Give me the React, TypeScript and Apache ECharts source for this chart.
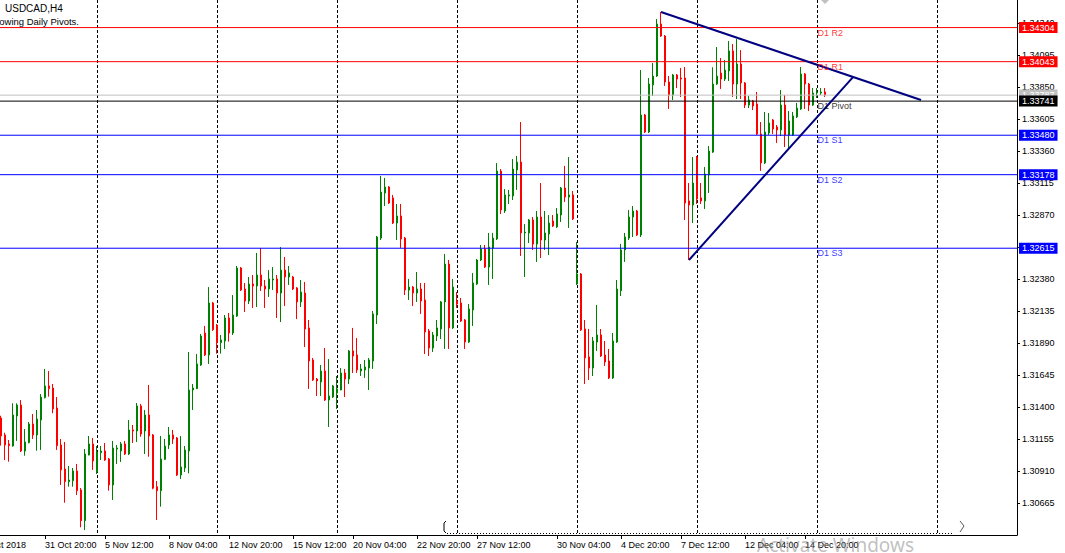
import React, { useEffect, useRef } from "react";
import * as echarts from "echarts";

// bars scrolled out of view on the left, and visible bar slots (incl. right shift)
const PAD = 6;
const SLOTS = 255;

const open = [
1.31316,1.31186,1.31117,1.31101,1.31331,1.31415,1.31063,1.31127,1.31270,1.31186,
1.31300,1.31471,1.31561,1.31545,1.31392,1.31109,1.30925,1.30828,1.30836,1.30910,
1.30765,1.30530,1.31032,1.31117,1.30902,1.31050,1.31063,1.31002,1.30803,1.31078,
1.31063,1.31117,1.31040,1.31224,1.31216,1.31408,1.31216,1.31339,1.31186,1.30790,
1.30759,1.30999,1.31109,1.31186,1.31163,1.30879,1.30933,1.31063,1.31530,1.31540,
1.31721,1.31966,1.31798,1.32196,1.32027,1.31892,1.31905,1.32081,1.31966,1.32096,
1.32464,1.32303,1.32211,1.32341,1.32326,1.32410,1.32326,1.32303,1.32372,1.32380,
1.32272,1.32448,1.32395,1.32395,1.32311,1.32204,1.32272,1.32005,1.31760,1.31614,
1.31591,1.31675,1.31453,1.31476,1.31507,1.31530,1.31660,1.31614,1.31829,1.31798,
1.31675,1.31683,1.31698,1.31752,1.32104,1.32693,1.33038,1.33084,1.33000,1.32808,
1.32862,1.32693,1.32295,1.32318,1.32272,1.32303,1.32219,1.31982,1.31851,1.31943,
1.31997,1.32204,1.32494,1.32005,1.32211,1.32196,1.32066,1.31897,1.32142,1.32341,
1.32525,1.32609,1.32471,1.32617,1.32686,1.33206,1.32900,1.33015,1.33015,1.33214,
1.33275,1.32732,1.32732,1.32831,1.32647,1.32854,1.32678,1.32724,1.32823,1.32778,
1.32869,1.33076,1.33007,1.33023,1.32341,1.32418,1.31997,1.31783,1.31698,1.31897,
1.31951,1.31798,1.31752,1.31622,1.31897,1.32290,1.32602,1.32693,1.32854,1.32900,
1.32716,1.33635,1.33505,1.33865,1.33933,1.34331,1.34239,1.33887,1.33788,1.33941,
1.33918,1.33918,1.32977,1.32946,1.33313,1.33000,1.32977,1.33176,1.33351,1.33872,
1.33956,1.33910,1.33972,1.34125,1.33872,1.34025,1.33880,1.33711,1.33742,1.33719,
1.33489,1.33268,1.33497,1.33597,1.33543,1.33520,1.33711,1.33482,1.33482,1.33620,
1.33681,1.33949,1.33872,1.33711,1.33803,1.33803,1.33811
];
const close = [
1.31178,1.31109,1.31104,1.31339,1.31415,1.31063,1.31132,1.31270,1.31186,1.31308,
1.31476,1.31561,1.31540,1.31385,1.31104,1.30918,1.30828,1.30841,1.30910,1.30759,
1.30530,1.31040,1.31117,1.30987,1.31055,1.31063,1.30994,1.30803,1.31086,1.31086,
1.31117,1.31040,1.31224,1.31216,1.31408,1.31193,1.31339,1.31178,1.30778,1.30759,
1.31002,1.31101,1.31186,1.31155,1.30879,1.30941,1.31071,1.31530,1.31545,1.31729,
1.31943,1.31798,1.32196,1.31992,1.31892,1.31913,1.32081,1.31966,1.32104,1.32464,
1.32295,1.32211,1.32341,1.32326,1.32410,1.32326,1.32303,1.32380,1.32380,1.32272,
1.32448,1.32395,1.32426,1.32303,1.32204,1.32280,1.31997,1.31752,1.31607,1.31599,
1.31675,1.31453,1.31484,1.31561,1.31538,1.31660,1.31614,1.31829,1.31790,1.31683,
1.31691,1.31706,1.31760,1.32112,1.32701,1.33045,1.33084,1.32961,1.32808,1.32862,
1.32686,1.32295,1.32318,1.32272,1.32303,1.32211,1.31974,1.31851,1.31951,1.32005,
1.32204,1.32494,1.32005,1.32318,1.32188,1.32058,1.31897,1.32150,1.32349,1.32525,
1.32609,1.32471,1.32624,1.32693,1.33206,1.32908,1.33023,1.33023,1.33221,1.33275,
1.32732,1.32739,1.32831,1.32647,1.32854,1.32678,1.32732,1.32808,1.32785,1.32877,
1.33076,1.33007,1.33023,1.32839,1.32418,1.31989,1.31775,1.31698,1.31905,1.31951,
1.31790,1.31744,1.31622,1.31905,1.32303,1.32602,1.32701,1.32854,1.32900,1.32716,
1.33635,1.33505,1.33872,1.33933,1.34331,1.34239,1.33887,1.33788,1.33941,1.33910,
1.33910,1.32961,1.32946,1.33114,1.32992,1.32977,1.33183,1.33359,1.33872,1.33933,
1.33910,1.33979,1.34125,1.33872,1.34025,1.33880,1.33711,1.33750,1.33704,1.33489,
1.33268,1.33505,1.33574,1.33528,1.33520,1.33711,1.33482,1.33589,1.33627,1.33688,
1.33949,1.33872,1.33711,1.33803,1.33811,1.33811,1.33787
];
const low = [
1.31104,1.30994,1.30981,1.31096,1.31140,1.31055,1.31027,1.31122,1.31155,1.31065,
1.31071,1.31466,1.31479,1.31352,1.31071,1.30803,1.30667,1.30790,1.30790,1.30726,
1.30479,1.30458,1.31030,1.30918,1.30887,1.30994,1.30987,1.30759,1.30688,1.30964,
1.30979,1.31032,1.31032,1.31124,1.31132,1.31172,1.31040,1.31019,1.30770,1.30535,
1.30637,1.30994,1.31078,1.31117,1.30872,1.30849,1.30902,1.30892,1.31377,1.31537,
1.31714,1.31790,1.31729,1.31982,1.31808,1.31808,1.31844,1.31900,1.31951,1.32089,
1.32288,1.32127,1.32188,1.32158,1.32165,1.32288,1.32158,1.32242,1.32295,1.32081,
1.32050,1.32173,1.32334,1.32295,1.32073,1.32165,1.31859,1.31538,1.31599,1.31484,
1.31484,1.31446,1.31247,1.31469,1.31385,1.31528,1.31476,1.31576,1.31660,1.31660,
1.31637,1.31622,1.31530,1.31691,1.32035,1.32678,1.32938,1.32954,1.32800,1.32678,
1.32617,1.32257,1.32219,1.32173,1.32204,1.32112,1.31805,1.31790,1.31821,1.31905,
1.31920,1.31844,1.31844,1.31997,1.32158,1.32050,1.31844,1.31890,1.32020,1.32334,
1.32517,1.32464,1.32334,1.32380,1.32678,1.32877,1.32885,1.32954,1.32984,1.33061,
1.32556,1.32395,1.32655,1.32602,1.32510,1.32540,1.32602,1.32563,1.32778,1.32770,
1.32816,1.32969,1.32770,1.32831,1.32334,1.31982,1.31576,1.31607,1.31637,1.31829,
1.31783,1.31714,1.31614,1.31614,1.31890,1.32249,1.32510,1.32678,1.32701,1.32709,
1.32701,1.33497,1.33497,1.33780,1.33926,1.34232,1.33857,1.33681,1.33750,1.33841,
1.33773,1.32831,1.32525,1.32808,1.32954,1.32954,1.32915,1.33038,1.33344,1.33865,
1.33834,1.33895,1.33895,1.33773,1.33757,1.33757,1.33688,1.33688,1.33673,1.33482,
1.33207,1.33260,1.33482,1.33489,1.33421,1.33474,1.33390,1.33367,1.33474,1.33612,
1.33673,1.33681,1.33665,1.33704,1.33765,1.33788,1.33773
];
const high = [
1.31333,1.31203,1.31147,1.31428,1.31428,1.31453,1.31231,1.31285,1.31346,1.31377,
1.31499,1.31691,1.31675,1.31576,1.31476,1.31155,1.31132,1.30948,1.30933,1.30964,
1.30780,1.31078,1.31178,1.31163,1.31101,1.31101,1.31124,1.31009,1.31140,1.31109,
1.31132,1.31140,1.31300,1.31262,1.31430,1.31423,1.31377,1.31568,1.31193,1.30833,
1.31178,1.31155,1.31247,1.31224,1.31170,1.31178,1.31101,1.31821,1.31576,1.31806,
1.31959,1.32020,1.32318,1.32204,1.32035,1.31951,1.32104,1.32119,1.32257,1.32479,
1.32471,1.32349,1.32395,1.32410,1.32579,1.32617,1.32372,1.32448,1.32471,1.32410,
1.32624,1.32548,1.32479,1.32403,1.32318,1.32372,1.32357,1.32066,1.31775,1.31622,
1.31721,1.31851,1.31767,1.31568,1.31637,1.31698,1.31691,1.31836,1.32005,1.31928,
1.31729,1.31760,1.31775,1.32135,1.32709,1.33168,1.33153,1.33091,1.33023,1.32954,
1.32954,1.32701,1.32380,1.32326,1.32433,1.32349,1.32349,1.31997,1.31974,1.32066,
1.32211,1.32571,1.32525,1.32380,1.32280,1.32234,1.32073,1.32188,1.32425,1.32533,
1.32640,1.32640,1.32732,1.32732,1.33267,1.33221,1.33068,1.33061,1.33298,1.33321,
1.33581,1.32800,1.32839,1.32854,1.32900,1.33114,1.32900,1.32869,1.32869,1.32923,
1.33084,1.33245,1.33313,1.33053,1.32663,1.32425,1.32066,1.31997,1.31936,1.32181,
1.31997,1.31905,1.31844,1.31966,1.32372,1.32648,1.32732,1.32908,1.32938,1.32908,
1.33979,1.33643,1.33918,1.34033,1.34369,1.34423,1.34247,1.33933,1.33949,1.33949,
1.33995,1.34002,1.33114,1.33313,1.33321,1.33114,1.33237,1.33397,1.34000,1.34155,
1.34071,1.34056,1.34201,1.34178,1.34216,1.34132,1.33887,1.33780,1.33750,1.33811,
1.33581,1.33658,1.33650,1.33604,1.33558,1.33826,1.33788,1.33665,1.33658,1.33727,
1.34002,1.33956,1.33880,1.33841,1.33841,1.33841,1.33841
];

// time-axis labels: bar index (0 = first visible bar) and text
const tickBars = [-6, 11, 26, 42, 57, 73, 88, 104, 119, 139, 155, 170, 186, 201];
const tickLabels = [
  "29 Oct 2018", "31 Oct 20:00", "5 Nov 12:00", "8 Nov 04:00", "12 Nov 20:00",
  "15 Nov 12:00", "20 Nov 04:00", "22 Nov 20:00", "27 Nov 12:00", "30 Nov 04:00",
  "4 Dec 20:00", "7 Dec 12:00", "12 Dec 04:00", "14 Dec 20:00"
];
const gridFirstBar = 24;
const gridEveryBars = 30;

// daily pivot levels
const pivotNames = ["D1 R2", "D1 R1", "D1 Pivot", "D1 S1", "D1 S2", "D1 S3"];
const pivotValues = [1.34304, 1.34043, 1.33741, 1.3348, 1.33178, 1.32615];
const pivotColors = ["#ff0000", "#ff0000", "#000000", "#0000ff", "#0000ff", "#0000ff"];
const pivotTextBar = 204;
const bidPrice = 1.33787;

// hand-drawn trendlines: [bar, price]
const trendDown = [[165, 1.34423], [230, 1.3375]];
const trendUp = [[172, 1.32525], [213, 1.33925]];

const yMin = 1.3042;
const yMax = 1.34515;
const yStep = 0.00245;

const FONT = "Liberation Sans";

export default function App() {
  const ref = useRef<HTMLDivElement>(null);

  useEffect(() => {
    if (!ref.current) return;
    const chart = echarts.init(ref.current, undefined, { renderer: "svg" });

    const total = PAD + SLOTS;
    const cats: string[] = [];
    for (let i = 0; i < total; i++) cats.push(String(i - PAD));

    const candles: any[] = [];
    for (let i = 0; i < PAD + open.length; i++) {
      const k = i - PAD;
      if (k < 0) candles.push(["-", "-", "-", "-"]);
      else candles.push([open[k], close[k], low[k], high[k]]);
    }

    const labelMap: Record<number, string> = {};
    tickBars.forEach((b, i) => (labelMap[b + PAD] = tickLabels[i]));
    const isTick = (i: number) => labelMap[i] !== undefined;
    const isGrid = (i: number) => {
      const k = i - PAD - gridFirstBar;
      return k >= 0 && k % gridEveryBars === 0;
    };

    const levels = [
      { v: pivotValues[0], c: pivotColors[0] },
      { v: pivotValues[1], c: pivotColors[1] },
      { v: bidPrice, c: "#c0c0c0" },
      { v: pivotValues[2], c: pivotColors[2] },
      { v: pivotValues[3], c: pivotColors[3] },
      { v: pivotValues[4], c: pivotColors[4] },
      { v: pivotValues[5], c: pivotColors[5] },
    ];

    const levelSeries = levels.map((l, idx) => ({
      type: "line",
      data: [[0, l.v], [total - 1, l.v]],
      symbol: "none",
      silent: true,
      clip: false,
      z: 5 + idx * 0.01,
      lineStyle: { color: l.c, width: 1 },
      endLabel: {
        show: true,
        distance: 2,
        formatter: () => l.v.toFixed(5),
        color: "#fff",
        backgroundColor: l.c,
        padding: [1, 3, 1, 3],
        fontSize: 9,
        lineHeight: 9,
        fontFamily: FONT,
      },
    }));

    const option: any = {
      animation: false,
      backgroundColor: "#ffffff",
      textStyle: { fontFamily: FONT },
      grid: {
        left: 1 - 4 * PAD,
        right: 48,
        top: 0,
        bottom: 18,
        containLabel: false,
        outerBoundsMode: "none",
      },
      xAxis: {
        type: "category",
        data: cats,
        boundaryGap: false,
        axisLine: { show: true, lineStyle: { color: "#000", width: 1 } },
        axisTick: { show: true, length: 4, interval: (i: number) => isTick(i), lineStyle: { color: "#000" } },
        axisLabel: {
          show: true,
          interval: (i: number) => isTick(i),
          formatter: (_v: string, i: number) => labelMap[i] || "",
          align: "left",
          margin: 5,
          fontSize: 9,
          color: "#000",
          fontFamily: FONT,
        },
        splitLine: {
          show: true,
          interval: (i: number) => isGrid(i),
          lineStyle: { color: "#000", width: 1, type: [3, 2] },
        },
      },
      yAxis: {
        type: "value",
        position: "right",
        min: yMin,
        max: yMax,
        interval: yStep,
        axisLine: { show: true, lineStyle: { color: "#000", width: 1 } },
        axisTick: { show: true, length: 3, lineStyle: { color: "#000" } },
        axisLabel: {
          show: true,
          margin: 5,
          fontSize: 9,
          color: "#000",
          fontFamily: FONT,
          showMinLabel: false,
          showMaxLabel: false,
          formatter: (v: number) => v.toFixed(5),
        },
        splitLine: { show: false },
      },
      series: [
        {
          type: "candlestick",
          data: candles,
          barWidth: 2,
          itemStyle: {
            color: "#008000",
            color0: "#ff0000",
            borderColor: "#008000",
            borderColor0: "#ff0000",
            borderWidth: 1,
          },
        },
        ...levelSeries,
        {
          type: "line",
          data: trendDown.map((p) => [p[0] + PAD, p[1]]),
          symbol: "none",
          lineStyle: { color: "#000080", width: 2 },
          z: 6,
        },
        {
          type: "line",
          data: trendUp.map((p) => [p[0] + PAD, p[1]]),
          symbol: "none",
          lineStyle: { color: "#000080", width: 2 },
          z: 6,
        },
        {
          type: "scatter",
          symbolSize: 1,
          itemStyle: { color: "rgba(0,0,0,0)" },
          z: 7,
          data: pivotValues.map((v, i) => ({
            value: [pivotTextBar + PAD, v],
            label: { color: pivotColors[i] },
          })),
          label: {
            show: true,
            formatter: (p: any) => pivotNames[p.dataIndex],
            position: [1, 1],
            align: "left",
            verticalAlign: "top",
            fontSize: 9,
            fontFamily: FONT,
          },
        },
      ],
      graphic: [
        {
          type: "text",
          x: 5,
          y: 3,
          style: { text: "USDCAD,H4", font: `10px "${FONT}"`, fill: "#000", verticalAlign: "top" },
        },
        {
          type: "text",
          x: 79,
          y: 16,
          style: { text: "Showing Daily Pivots.", font: `9.5px "${FONT}"`, fill: "#000", align: "right", verticalAlign: "top" },
        },
        {
          type: "polygon",
          shape: { points: [[821, 0], [829, 0], [825, 4]] },
          style: { fill: "#c0c0c0" },
        },
        {
          type: "polyline",
          shape: { points: [[446, 521], [444, 523], [444, 531], [446, 533]] },
          style: { stroke: "#000", lineWidth: 1, fill: "none" },
        },
        {
          type: "line",
          shape: { x1: 447, y1: 533.5, x2: 952, y2: 533.5 },
          style: { stroke: "#000", lineWidth: 1, lineDash: [1, 2] },
        },
        {
          type: "polyline",
          shape: { points: [[960, 521], [964, 526], [960, 532]] },
          style: { stroke: "#555", lineWidth: 1, fill: "none" },
        },
        {
          type: "text",
          x: 757,
          y: 554,
          z: 100,
          style: {
            text: "Activate Windows",
            font: `19px "Noto Sans"`,
            fill: "rgba(140,140,140,0.55)",
            align: "left",
            verticalAlign: "bottom",
          },
        },
      ],
    };

    chart.setOption(option);
    return () => chart.dispose();
  }, []);

  return (
    <div
      ref={ref}
      style={{ position: "fixed", left: 0, top: 0, width: 1065, height: 553, background: "#fff" }}
    />
  );
}
